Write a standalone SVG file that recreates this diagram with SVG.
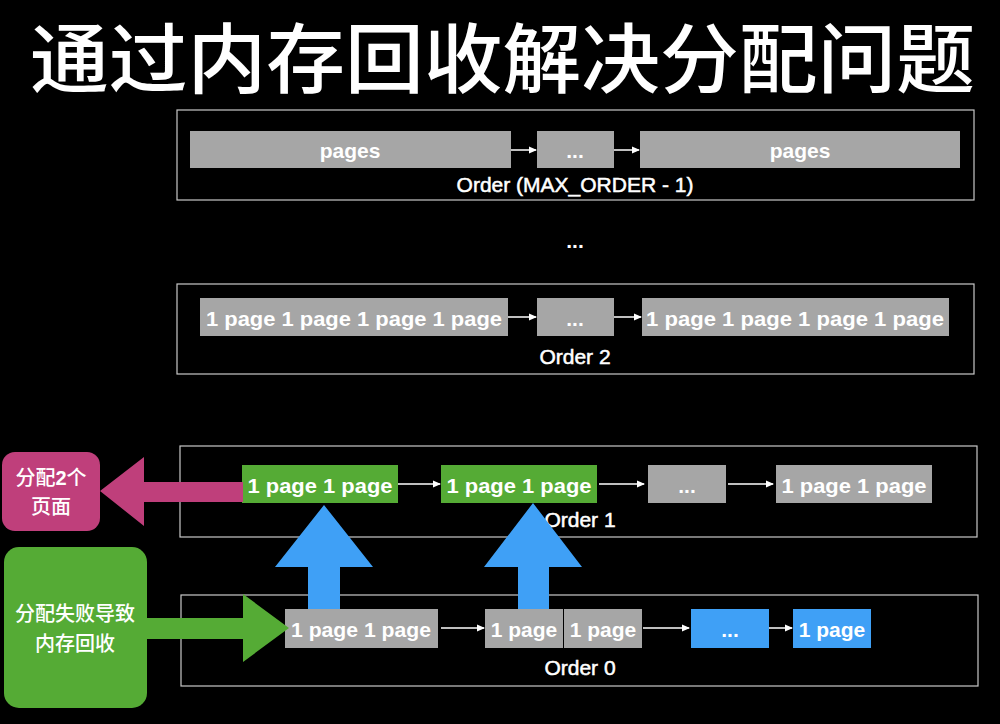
<svg xmlns="http://www.w3.org/2000/svg" width="1000" height="724" viewBox="0 0 1000 724">
<defs>
<marker id="ah" markerWidth="8" markerHeight="8" refX="7" refY="4" orient="auto" markerUnits="userSpaceOnUse">
<path d="M0,0.5 L8,4 L0,7.5 z" fill="#ffffff"/>
</marker>
<style>
.frame{fill:none;stroke:#c8c8c8;stroke-width:1.2}
.gray{fill:#a6a6a6}
.green{fill:#55ab35}
.blue{fill:#3fa0f6}
.pink{fill:#bf3f7b}
.pg{font-family:"Liberation Sans",Arial,sans-serif;font-weight:bold;font-size:21px;fill:#ffffff;text-anchor:middle}
.ord{font-family:"Liberation Sans",Arial,sans-serif;font-size:21px;fill:#ffffff;stroke:#ffffff;stroke-width:0.5;text-anchor:middle}
.cjk{font-family:"Noto Sans CJK SC",sans-serif;font-size:20px;font-weight:500;fill:#ffffff;text-anchor:middle}
.conn{stroke:#ffffff;stroke-width:1.5;fill:none;marker-end:url(#ah)}
</style>
</defs>
<rect width="1000" height="724" fill="#000000"/>
<text x="30" y="87" font-family="'Noto Sans CJK SC',sans-serif" font-weight="500" font-size="76" fill="#ffffff" textLength="945" lengthAdjust="spacingAndGlyphs">通过内存回收解决分配问题</text>

<g id="order-max">
<rect class="frame" x="177" y="110" width="797" height="90"/>
<rect class="gray" x="190" y="131" width="321" height="37"/>
<text class="pg" x="350" y="158">pages</text>
<rect class="gray" x="537" y="131" width="77" height="37"/>
<text class="pg" x="575" y="158">...</text>
<rect class="gray" x="640" y="131" width="320" height="37"/>
<text class="pg" x="800" y="158">pages</text>
<text class="ord" x="575" y="192">Order (MAX_ORDER - 1)</text>
</g>

<g id="ellipsis">
<text class="pg" x="575" y="248">...</text>
</g>

<g id="order-2">
<rect class="frame" x="177" y="284" width="797" height="90"/>
<rect class="gray" x="200" y="298" width="308" height="38"/>
<text class="pg" x="354" y="326" textLength="296" lengthAdjust="spacingAndGlyphs">1 page 1 page 1 page 1 page</text>
<rect class="gray" x="537" y="298" width="77" height="38"/>
<text class="pg" x="575" y="326">...</text>
<rect class="gray" x="642" y="298" width="307" height="38"/>
<text class="pg" x="795" y="326" textLength="298" lengthAdjust="spacingAndGlyphs">1 page 1 page 1 page 1 page</text>
<text class="ord" x="575" y="364">Order 2</text>
</g>

<g id="order-1">
<rect class="frame" x="180" y="446" width="797" height="91"/>
<rect class="green" x="242" y="465" width="156" height="38"/>
<text class="pg" x="320" y="493" textLength="145" lengthAdjust="spacingAndGlyphs">1 page 1 page</text>
<rect class="green" x="441" y="465" width="156" height="38"/>
<text class="pg" x="519" y="493" textLength="145" lengthAdjust="spacingAndGlyphs">1 page  1 page</text>
<rect class="gray" x="648" y="465" width="78" height="38"/>
<text class="pg" x="687" y="493">...</text>
<rect class="gray" x="776" y="465" width="156" height="38"/>
<text class="pg" x="854" y="493" textLength="145" lengthAdjust="spacingAndGlyphs">1 page 1 page</text>
<text class="ord" x="580" y="527">Order 1</text>
</g>

<g id="order-0">
<rect class="frame" x="181" y="595" width="797" height="91"/>
<rect class="gray" x="285" y="609" width="153" height="39"/>
<text class="pg" x="361" y="637" textLength="140" lengthAdjust="spacingAndGlyphs">1 page 1 page</text>
<rect class="gray" x="485" y="609" width="78" height="39"/>
<text class="pg" x="524" y="637">1 page</text>
<rect class="gray" x="564" y="609" width="78" height="39"/>
<text class="pg" x="603" y="637">1 page</text>
<rect class="blue" x="691" y="609" width="78" height="39"/>
<text class="pg" x="730" y="637">...</text>
<rect class="blue" x="793" y="609" width="78" height="39"/>
<text class="pg" x="832" y="637">1 page</text>
<text class="ord" x="580" y="675">Order 0</text>
</g>

<g id="connectors">
<line class="conn" x1="511" y1="150" x2="536" y2="150"/>
<line class="conn" x1="614" y1="150" x2="639" y2="150"/>
<line class="conn" x1="508" y1="317" x2="536" y2="317"/>
<line class="conn" x1="614" y1="317" x2="641" y2="317"/>
<line class="conn" x1="398" y1="484" x2="440" y2="484"/>
<line class="conn" x1="599" y1="484" x2="644" y2="484"/>
<line class="conn" x1="728" y1="484" x2="773" y2="484"/>
<line class="conn" x1="441" y1="628" x2="484" y2="628"/>
<line class="conn" x1="643" y1="628" x2="689" y2="628"/>
<line class="conn" x1="769" y1="628" x2="792" y2="628"/>
<polygon class="pink" points="243,482 144,482 144,457 100,491 144,526 144,502 243,502"/>
<polygon class="green" points="147,618 243,618 243,594 289,628 243,662 243,639 147,639"/>
<polygon class="blue" points="308,609 308,567 275,567 324,505 373,567 340,567 340,609"/>
<polygon class="blue" points="518,609 518,567 484,567 533,503 582,567 549,567 549,609"/>
</g>

<g id="alloc-node">
<rect class="pink" x="2" y="452" width="98" height="79" rx="13"/>
<text class="cjk" x="51" y="485">分配<tspan font-family="'Liberation Sans',sans-serif" font-weight="bold">2</tspan>个</text>
<text class="cjk" x="51" y="514">页面</text>
</g>

<g id="reclaim-node">
<rect class="green" x="4" y="547" width="143" height="161" rx="15"/>
<text class="cjk" x="75" y="621" font-size="21">分配失败导致</text>
<text class="cjk" x="75" y="651" font-size="21">内存回收</text>
</g>
</svg>
